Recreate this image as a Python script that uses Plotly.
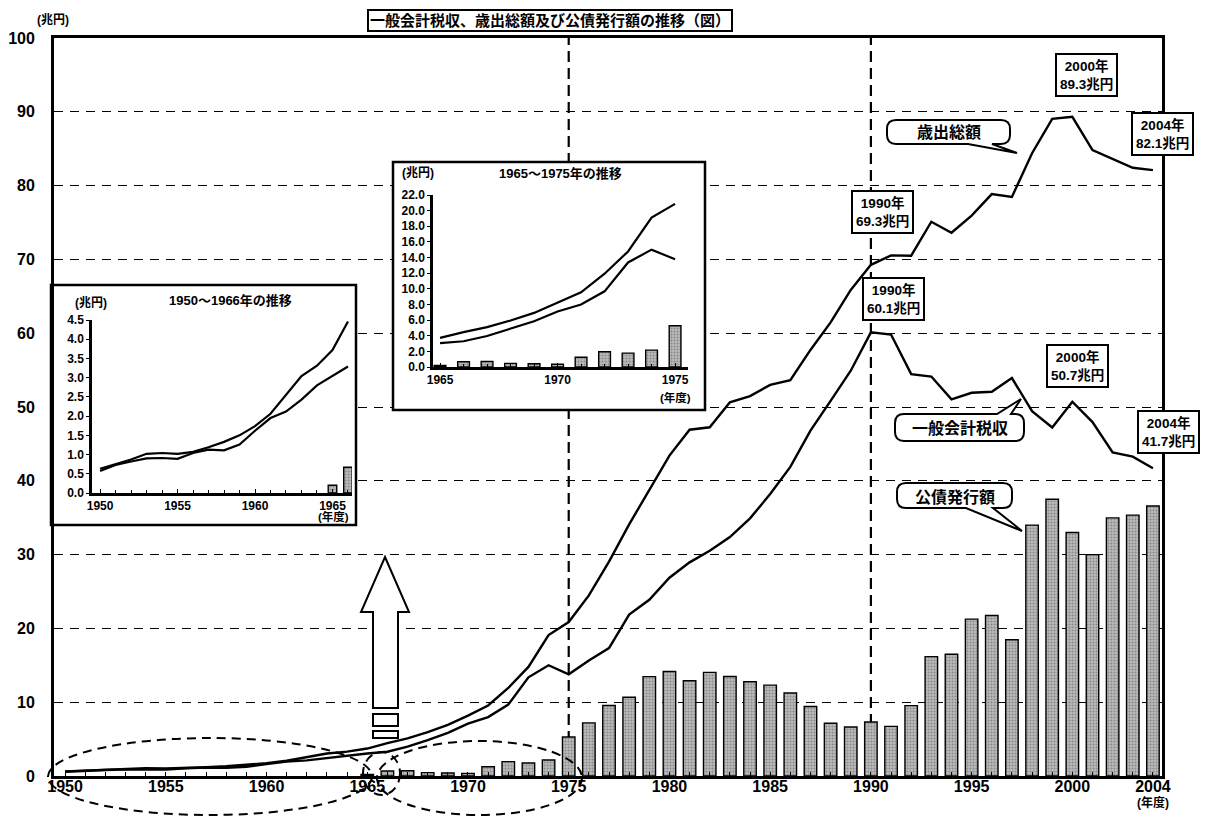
import plotly.graph_objects as go

# ---------------- data (兆円) ----------------
years = list(range(1950, 2005))
expenditure = [0.63, 0.75, 0.87, 1.02, 1.04, 1.02, 1.07, 1.19, 1.33, 1.50,
               1.74, 2.06, 2.56, 3.04, 3.31, 3.72, 4.46, 5.10, 5.94, 6.92,
               8.19, 9.56, 11.93, 14.78, 19.10, 20.86, 24.47, 29.06, 34.10, 38.79,
               43.41, 46.92, 47.25, 50.64, 51.48, 53.00, 53.64, 57.73, 61.47, 65.86,
               69.27, 70.55, 70.50, 75.10, 73.61, 75.94, 78.85, 78.47, 84.39, 89.04,
               89.32, 84.81, 83.67, 82.42, 82.10]
tax_revenue = [0.57, 0.73, 0.82, 0.90, 0.91, 0.89, 1.04, 1.13, 1.11, 1.26,
               1.62, 1.95, 2.12, 2.43, 2.80, 3.05, 3.29, 3.97, 4.87, 5.84,
               7.10, 7.99, 9.68, 13.37, 15.01, 13.78, 15.65, 17.33, 21.87, 23.87,
               26.87, 28.95, 30.51, 32.37, 34.91, 38.20, 41.88, 46.79, 50.83, 54.92,
               60.11, 59.82, 54.45, 54.13, 51.03, 51.93, 52.06, 53.92, 49.43, 47.23,
               50.71, 47.95, 43.83, 43.28, 41.70]
bond_years = list(range(1965, 2005))
bond_issuance = [0.20, 0.67, 0.71, 0.46, 0.41, 0.35, 1.25, 1.95, 1.77, 2.16,
                 5.28, 7.20, 9.56, 10.67, 13.47, 14.17, 12.90, 14.04, 13.49, 12.78,
                 12.31, 11.25, 9.42, 7.15, 6.64, 7.31, 6.73, 9.54, 16.17, 16.49,
                 21.25, 21.75, 18.46, 34.00, 37.51, 33.00, 30.00, 34.97, 35.35, 36.59]

main_xticks = [1950, 1955, 1960, 1965, 1970, 1975, 1980, 1985, 1990, 1995, 2000, 2004]
main_yticks = [0, 10, 20, 30, 40, 50, 60, 70, 80, 90, 100]
marker_years = [1975, 1990]
inset1_years = (1950, 1966)
inset1_xticks = [1950, 1955, 1960, 1965]
inset1_yticks = [0.0, 0.5, 1.0, 1.5, 2.0, 2.5, 3.0, 3.5, 4.0, 4.5]
inset2_years = (1965, 1975)
inset2_xticks = [1965, 1970, 1975]
inset2_yticks = [0, 2, 4, 6, 8, 10, 12, 14, 16, 18, 20, 22]
highlight_years = [1990, 2000, 2004]

title_text = "一般会計税収、歳出総額及び公債発行額の推移（図）"
label_exp = "歳出総額"
label_tax = "一般会計税収"
label_bond = "公債発行額"

# ---------------- layout helpers (page pixel -> paper) ----------------
PAGE_W, PAGE_H = 1209, 819
OFF = 8                      # default body margin of the html page
W, H = PAGE_W - OFF, PAGE_H - OFF
L, R, T, B = 54, 1162, 38, 776   # plot area in page pixels


def px(x):
    return (x - L) / (R - L)


def py(y):
    return (B - y) / (B - T)


def pt(x, y):
    return f"{px(x):.5f},{py(y):.5f}"


FONT = "Liberation Sans, Noto Sans CJK JP, sans-serif"
CJK = "Liberation Sans, Noto Sans CJK JP, sans-serif"

bar_marker = dict(color="#a6a6a6", line=dict(color="black", width=1.4),
                  pattern=dict(shape=".", fgcolor="#555555", bgcolor="#bcbcbc",
                               size=3, solidity=0.4))

fig = go.Figure()

# ---------------- main chart ----------------
fig.add_trace(go.Bar(x=bond_years, y=bond_issuance, width=0.62, marker=bar_marker,
                     xaxis="x", yaxis="y", hoverinfo="skip"))
fig.add_trace(go.Scatter(x=years, y=expenditure, mode="lines",
                         line=dict(color="black", width=2.4), xaxis="x", yaxis="y"))
fig.add_trace(go.Scatter(x=years, y=tax_revenue, mode="lines",
                         line=dict(color="black", width=2.4), xaxis="x", yaxis="y"))

# ---------------- inset 1 (1950-1966) ----------------
fig.add_trace(go.Scatter(x=[0, 1, 1, 0, 0], y=[0, 0, 1, 1, 0], fill="toself",
                         fillcolor="white", mode="lines", line=dict(width=0),
                         xaxis="x2", yaxis="y2", hoverinfo="skip"))
i1 = [i for i, y in enumerate(years) if inset1_years[0] <= y <= inset1_years[1]]
b1 = [i for i, y in enumerate(bond_years) if inset1_years[0] <= y <= inset1_years[1]]
fig.add_trace(go.Bar(x=[bond_years[i] for i in b1], y=[bond_issuance[i] for i in b1],
                     width=0.55, marker=bar_marker, xaxis="x3", yaxis="y3"))
fig.add_trace(go.Scatter(x=[years[i] for i in i1], y=[expenditure[i] for i in i1],
                         mode="lines", line=dict(color="black", width=2.2),
                         xaxis="x3", yaxis="y3"))
fig.add_trace(go.Scatter(x=[years[i] for i in i1], y=[tax_revenue[i] for i in i1],
                         mode="lines", line=dict(color="black", width=2.2),
                         xaxis="x3", yaxis="y3"))

# ---------------- inset 2 (1965-1975) ----------------
fig.add_trace(go.Scatter(x=[0, 1, 1, 0, 0], y=[0, 0, 1, 1, 0], fill="toself",
                         fillcolor="white", mode="lines", line=dict(width=0),
                         xaxis="x4", yaxis="y4", hoverinfo="skip"))
i2 = [i for i, y in enumerate(years) if inset2_years[0] <= y <= inset2_years[1]]
b2 = [i for i, y in enumerate(bond_years) if inset2_years[0] <= y <= inset2_years[1]]
fig.add_trace(go.Bar(x=[bond_years[i] for i in b2], y=[bond_issuance[i] for i in b2],
                     width=0.5, marker=bar_marker, xaxis="x5", yaxis="y5"))
fig.add_trace(go.Scatter(x=[years[i] for i in i2], y=[expenditure[i] for i in i2],
                         mode="lines", line=dict(color="black", width=2.2),
                         xaxis="x5", yaxis="y5"))
fig.add_trace(go.Scatter(x=[years[i] for i in i2], y=[tax_revenue[i] for i in i2],
                         mode="lines", line=dict(color="black", width=2.2),
                         xaxis="x5", yaxis="y5"))

tickfont_main = dict(family=FONT, size=16, color="black", weight="bold")
tickfont_in = dict(family=FONT, size=12, color="black", weight="bold")

fig.update_layout(
    width=W, height=H, autosize=False,
    margin=dict(l=L - OFF, r=PAGE_W - R, t=T - OFF, b=PAGE_H - B, pad=0),
    paper_bgcolor="white", plot_bgcolor="white",
    showlegend=False, hovermode=False, barmode="overlay",
    font=dict(family=CJK, color="black"),
    xaxis=dict(domain=[0, 1], range=[1949.45, 2004.45], anchor="y", automargin=False,
               tickvals=main_xticks, ticktext=[str(v) for v in main_xticks],
               showline=True, linewidth=2.8, linecolor="black", mirror=True,
               showgrid=False, zeroline=False, ticks="", tickfont=tickfont_main,
               ticklabelstandoff=-6,
               minor=dict(tick0=1950, dtick=1, ticks="inside", ticklen=4,
                          tickwidth=1.2, tickcolor="black", showgrid=False)),
    yaxis=dict(domain=[0, 1], range=[0, 100], anchor="x", tickvals=main_yticks,
               automargin=False,
               showline=True, linewidth=2.8, linecolor="black", mirror=True,
               showgrid=True, gridcolor="black", gridwidth=1.3, griddash="9px,7px",
               zeroline=False, ticks="", tickfont=tickfont_main, ticklabelstandoff=13),
    # inset 1
    xaxis2=dict(domain=[0, px(356)], range=[0, 1], anchor="y2", visible=False,
                automargin=False),
    yaxis2=dict(domain=[py(525), py(285)], range=[0, 1], anchor="x2", visible=False,
                automargin=False),
    xaxis3=dict(domain=[px(92), px(352)], range=[1949.48, 1966.26], anchor="y3",
                automargin=False,
                tickvals=inset1_xticks, showline=True, linewidth=2.5, linecolor="black",
                showgrid=False, zeroline=False, ticks="inside", ticklen=4,
                tickcolor="black", tickfont=tickfont_in,
                minor=dict(tick0=1950, dtick=1, ticks="inside", ticklen=3,
                           tickcolor="black")),
    yaxis3=dict(domain=[py(493), py(320)], range=[0, 4.5], anchor="x3", automargin=False,
                tickvals=inset1_yticks, tickformat=".1f", showline=True, linewidth=2.5,
                linecolor="black", showgrid=False, zeroline=False, ticks="outside",
                ticklen=3, tickcolor="black", tickfont=tickfont_in),
    # inset 2
    xaxis4=dict(domain=[px(393), px(705)], range=[0, 1], anchor="y4", visible=False,
                automargin=False),
    yaxis4=dict(domain=[py(410), py(162)], range=[0, 1], anchor="x4", visible=False,
                automargin=False),
    xaxis5=dict(domain=[px(433), px(688)], range=[1964.70, 1975.55], anchor="y5",
                automargin=False,
                tickvals=inset2_xticks, showline=True, linewidth=2.5, linecolor="black",
                showgrid=False, zeroline=False, ticks="inside", ticklen=4,
                tickcolor="black", tickfont=tickfont_in,
                minor=dict(tick0=1965, dtick=1, ticks="inside", ticklen=3,
                           tickcolor="black")),
    yaxis5=dict(domain=[py(367), py(195)], range=[0, 22], anchor="x5", automargin=False,
                tickvals=inset2_yticks, tickformat=".1f", showline=True, linewidth=2.5,
                linecolor="black", showgrid=False, zeroline=False, ticks="outside",
                ticklen=3, tickcolor="black", tickfont=tickfont_in),
)

shapes = []
# vertical dashed markers
for yr in marker_years:
    shapes.append(dict(type="line", xref="x", yref="y", x0=yr, x1=yr, y0=0, y1=100,
                       layer="below", line=dict(color="black", width=2.2, dash="11px,6px")))

# inset borders
for (x0, y0, x1, y1) in [(51, 285, 356, 525), (393, 162, 705, 410)]:
    shapes.append(dict(type="rect", xref="paper", yref="paper", layer="above",
                       x0=px(x0), x1=px(x1), y0=py(y1), y1=py(y0),
                       line=dict(color="black", width=2.5)))


def bubble(x0, y0, x1, y1, r, side, b0, b1, tip):
    p = [f"M{pt(x0 + r, y0)}"]
    if side == "top":
        p += [f"L{pt(b0, y0)}", f"L{pt(*tip)}", f"L{pt(b1, y0)}"]
    p += [f"L{pt(x1 - r, y0)}", f"Q{pt(x1, y0)} {pt(x1, y0 + r)}",
          f"L{pt(x1, y1 - r)}", f"Q{pt(x1, y1)} {pt(x1 - r, y1)}"]
    if side == "bottom":
        p += [f"L{pt(b1, y1)}", f"L{pt(*tip)}", f"L{pt(b0, y1)}"]
    p += [f"L{pt(x0 + r, y1)}", f"Q{pt(x0, y1)} {pt(x0, y1 - r)}",
          f"L{pt(x0, y0 + r)}", f"Q{pt(x0, y0)} {pt(x0 + r, y0)}", "Z"]
    return dict(type="path", xref="paper", yref="paper", layer="above", path=" ".join(p),
                fillcolor="white", line=dict(color="black", width=2))


bubbles = [
    (label_exp, (887, 120, 1010, 144), "bottom", 968, 992, (1017, 153)),
    (label_tax, (895, 414, 1024, 441), "top", 997, 1011, (1021, 399)),
    (label_bond, (897, 483, 1012, 508), "bottom", 966, 993, (1022, 531)),
]
for _, (x0, y0, x1, y1), side, b0, b1, tip in bubbles:
    shapes.append(bubble(x0, y0, x1, y1, 9, side, b0, b1, tip))

# hollow arrow pointing to inset 1
arrow = [(385, 557), (409, 612), (398, 612), (398, 708), (373, 708), (373, 612), (361, 612)]
shapes.append(dict(type="path", xref="paper", yref="paper", layer="above",
                   path="M" + " L".join(pt(*q) for q in arrow) + " Z",
                   fillcolor="white", line=dict(color="black", width=2)))
for (x0, y0, x1, y1) in [(373, 714, 398, 726), (373, 731, 398, 738)]:
    shapes.append(dict(type="rect", xref="paper", yref="paper", layer="above",
                       x0=px(x0), x1=px(x1), y0=py(y1), y1=py(y0),
                       fillcolor="white", line=dict(color="black", width=2)))

# dashed ellipses on the time axis
for (x0, y0, x1, y1) in [(48, 738, 372, 815), (377, 741, 582, 815), (363, 752, 400, 795)]:
    shapes.append(dict(type="circle", xref="paper", yref="paper", layer="above",
                       x0=px(x0), x1=px(x1), y0=py(y1), y1=py(y0),
                       line=dict(color="black", width=2, dash="9px,6px")))

annotations = []


def add_text(x, y, text, size, bold=True, **kw):
    annotations.append(dict(xref="paper", yref="paper", x=px(x), y=py(y), text=text,
                            showarrow=False, xanchor=kw.pop("xanchor", "center"),
                            yanchor=kw.pop("yanchor", "middle"),
                            font=dict(family=CJK, size=size, color="black",
                                      weight="bold" if bold else "normal"), **kw))


# title box
add_text(550, 21, title_text, 15, bordercolor="black", borderwidth=2, borderpad=1,
         bgcolor="white")
add_text(53, 20, "(兆円)", 12)
add_text(1153, 802, "(年度)", 12)

# inset labels
add_text(91, 303, "(兆円)", 12)
add_text(230, 300, "1950～1966年の推移", 13)
add_text(333, 516, "(年度)", 11.5)
add_text(418, 173, "(兆円)", 12)
add_text(560, 173, "1965～1975年の推移", 13)
add_text(675, 397, "(年度)", 11.5)

# bubble labels
for text, (x0, y0, x1, y1), *_ in bubbles:
    add_text((x0 + x1) / 2, (y0 + y1) / 2 + 1, text, 16)

# value boxes
box_pos = {("exp", 1990): (882, 212), ("exp", 2000): (1086, 75), ("exp", 2004): (1162, 134),
           ("tax", 1990): (893, 299), ("tax", 2000): (1077, 366), ("tax", 2004): (1168, 432)}
for key, series in [("exp", expenditure), ("tax", tax_revenue)]:
    for yr in highlight_years:
        v = series[years.index(yr)]
        bx, by = box_pos[(key, yr)]
        add_text(bx, by, f"{yr}年<br>{v:.1f}兆円", 13.5, bordercolor="black",
                 borderwidth=2, borderpad=3, bgcolor="white")

fig.update_layout(shapes=shapes, annotations=annotations)
fig.write_html("out.html")
